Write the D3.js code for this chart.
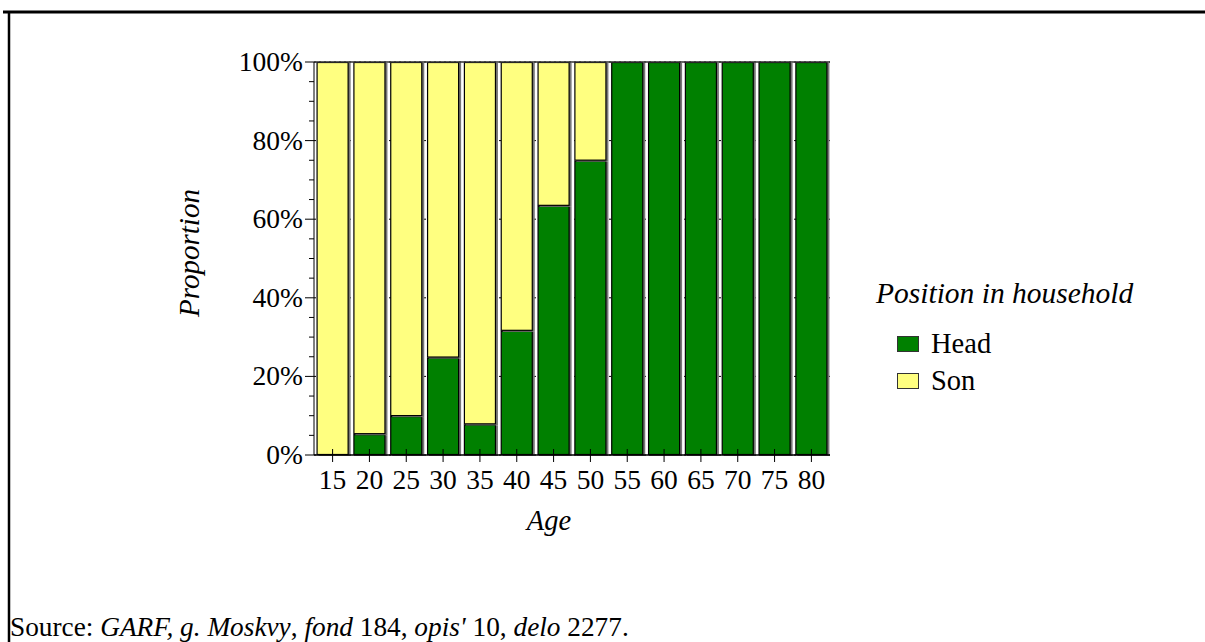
<!DOCTYPE html>
<html>
<head>
<meta charset="utf-8">
<script src="https://cdn.jsdelivr.net/npm/d3@7"></script>
<style>
  body { margin: 0; background: #fff; }
  svg { display: block; font-family: "Liberation Serif", "Times New Roman", serif; }
</style>
</head>
<body>
<svg id="chart" width="1205" height="642"></svg>
<script>
// data
const ages = ["15", "20", "25", "30", "35", "40", "45", "50", "55", "60", "65", "70", "75", "80"];
const headShare = [0, 5.3, 9.9, 24.8, 7.8, 31.6, 63.4, 74.9, 100, 100, 100, 100, 100, 100];
const sonShare = headShare.map(h => 100 - h);
const yTicks = [0, 20, 40, 60, 80, 100];
const yMinor = d3.range(0, 101, 5);
const seriesNames = ["Head", "Son"];
const seriesColors = ["#008000", "#ffff80"];

const svg = d3.select("#chart");

// frame lines
svg.append("line").attr("x1", 3).attr("x2", 1205).attr("y1", 12).attr("y2", 12)
    .attr("stroke", "#000").attr("stroke-width", 3);
svg.append("line").attr("x1", 9).attr("x2", 9).attr("y1", 11).attr("y2", 642)
    .attr("stroke", "#000").attr("stroke-width", 2.5);

const plotLeft = 314, plotRight = 830, plotTop = 62, plotBottom = 455;

const x = d3.scaleBand().domain(ages).range([plotLeft, plotRight]).paddingInner(0.13).paddingOuter(0.07);
const y = d3.scaleLinear().domain([0, 100]).range([plotBottom, plotTop]);

// grid behind bars
svg.append("g").selectAll("line").data(yTicks).enter().append("line")
    .attr("x1", plotLeft).attr("x2", plotRight)
    .attr("y1", d => y(d)).attr("y2", d => y(d))
    .attr("stroke", "#000").attr("stroke-width", 1)
    .attr("stroke-dasharray", "2,3");

const rows = ages.map((a, i) => ({ age: a, Head: headShare[i], Son: sonShare[i] }));
const stack = d3.stack().keys(seriesNames)(rows);

const layers = svg.append("g").selectAll("g").data(stack).enter().append("g");

// shadow
layers.selectAll("rect.shadow")
    .data(d => d.filter(p => p[1] - p[0] > 0))
    .enter().append("rect")
    .attr("x", d => x(d.data.age) + 2)
    .attr("y", d => y(d[1]) + 1)
    .attr("width", x.bandwidth())
    .attr("height", d => y(d[0]) - y(d[1]))
    .attr("fill", "#777");

layers.each(function (layer, li) {
    d3.select(this).selectAll("rect.bar")
        .data(layer.filter(p => p[1] - p[0] > 0))
        .enter().append("rect")
        .attr("class", "bar")
        .attr("x", d => x(d.data.age) + 0.5)
        .attr("y", d => y(d[1]) + 0.5)
        .attr("width", x.bandwidth() - 1)
        .attr("height", d => y(d[0]) - y(d[1]) - 1)
        .attr("fill", seriesColors[li])
        .attr("stroke", "#000")
        .attr("stroke-width", 1.2);
});

// top line
svg.append("line").attr("x1", plotLeft).attr("x2", plotRight).attr("y1", plotTop).attr("y2", plotTop)
    .attr("stroke", "#333").attr("stroke-width", 1.5);

// y axis
const yAxis = svg.append("g").attr("transform", `translate(${plotLeft},0)`);
yAxis.append("line").attr("y1", plotTop).attr("y2", plotBottom).attr("stroke", "#000");
yAxis.selectAll("line.minor").data(yMinor).enter().append("line")
    .attr("x1", d => yTicks.includes(d) ? -9 : -5).attr("x2", 0)
    .attr("y1", d => y(d)).attr("y2", d => y(d))
    .attr("stroke", "#000");
yAxis.selectAll("text").data(yTicks).enter().append("text")
    .attr("x", -11).attr("y", d => y(d)).attr("dy", "0.33em")
    .attr("text-anchor", "end").attr("font-size", 27.5)
    .text(d => d + "%");

// x axis
const xAxis = svg.append("g").attr("transform", `translate(0,${plotBottom})`);
xAxis.append("line").attr("x1", plotLeft).attr("x2", plotRight).attr("stroke", "#000").attr("stroke-width", 1.5);
xAxis.selectAll("line.t").data(ages).enter().append("line")
    .attr("x1", d => x(d) + x.bandwidth() / 2).attr("x2", d => x(d) + x.bandwidth() / 2)
    .attr("y1", -6).attr("y2", 7).attr("stroke", "#000");
xAxis.selectAll("text").data(ages).enter().append("text")
    .attr("x", d => x(d) + x.bandwidth() / 2).attr("y", 34)
    .attr("text-anchor", "middle").attr("font-size", 27.5)
    .text(d => d);

// axis titles
svg.append("text").attr("x", 549).attr("y", 530)
    .attr("text-anchor", "middle").attr("font-size", 28.5).attr("font-style", "italic").text("Age");
svg.append("text").attr("transform", `translate(199,253) rotate(-90)`)
    .attr("text-anchor", "middle").attr("font-size", 29).attr("font-style", "italic").text("Proportion");

// legend
const legend = svg.append("g");
legend.append("text").attr("x", 876).attr("y", 303).attr("font-size", 29.5)
    .attr("font-style", "italic").text("Position in household");
seriesNames.forEach((name, i) => {
    const ly = 336 + i * 37;
    legend.append("rect").attr("x", 897.5).attr("y", ly + 0.5).attr("width", 21).attr("height", 15)
        .attr("fill", seriesColors[i]).attr("stroke", "#333").attr("stroke-width", 1);
    legend.append("text").attr("x", 931).attr("y", ly + 17).attr("font-size", 28.5).text(name);
});

// source note (runs into the bottom edge, as in the original)
const src = svg.append("text").attr("x", 10).attr("y", 636).attr("font-size", 27.3);
const parts = [["Source: ", false], ["GARF, g. Moskvy", true], [", ", false], ["fond", true],
    [" 184, ", false], ["opis'", true], [" 10, ", false], ["delo", true], [" 2277.", false]];
parts.forEach(p => src.append("tspan").attr("font-style", p[1] ? "italic" : "normal").text(p[0]));
</script>
</body>
</html>
